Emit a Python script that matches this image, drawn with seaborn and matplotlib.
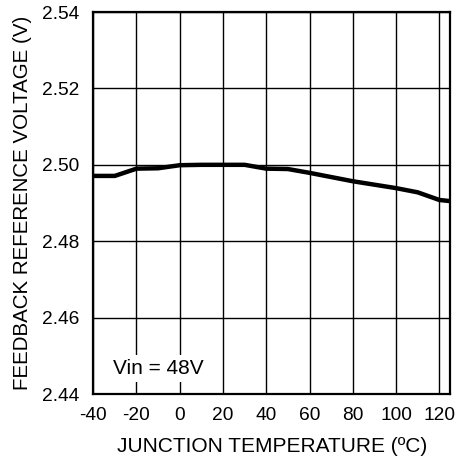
import numpy as np
import pandas as pd
import matplotlib
matplotlib.use("Agg")
import matplotlib.pyplot as plt
import seaborn as sns

# data
temperature = [-40, -30, -20, -10, 0, 10, 20, 30, 40, 50, 60, 70, 80, 90, 100, 110, 120, 125]
voltage = [2.4971, 2.4971, 2.4990, 2.4991, 2.4999, 2.5000, 2.5000, 2.5000, 2.4990, 2.4989,
           2.4979, 2.4968, 2.4957, 2.4948, 2.4939, 2.4928, 2.4908, 2.4905]
x_ticks = [-40, -20, 0, 20, 40, 60, 80, 100, 120]
y_ticks = [2.44, 2.46, 2.48, 2.50, 2.52, 2.54]

df = pd.DataFrame({"temp": temperature, "vref": voltage})

sns.set_theme(style="white")
plt.rcParams["font.family"] = ["Liberation Sans", "DejaVu Sans"]
plt.rcParams["axes.unicode_minus"] = False

fig, ax = plt.subplots(figsize=(4.57, 4.63), dpi=100)
fig.subplots_adjust(left=0.204, right=0.985, top=0.974, bottom=0.149)

sns.lineplot(data=df, x="temp", y="vref", color="black", linewidth=3.2, ax=ax, zorder=3)

ax.set_xlim(-40, 125)
ax.set_ylim(2.44, 2.54)
ax.set_xticks(x_ticks)
ax.set_yticks(y_ticks)
ax.set_yticklabels([f"{v:.2f}" for v in y_ticks])
ax.grid(True, color="black", linewidth=1.0)
ax.tick_params(length=0, labelsize=13.8, colors="black")
ax.tick_params(axis="y", pad=10)
ax.tick_params(axis="x", pad=9)

for s in ax.spines.values():
    s.set_color("black")
    s.set_linewidth(1.6)

ax.set_xlabel("JUNCTION TEMPERATURE (ºC)", fontsize=15, color="black", labelpad=10)
ax.set_ylabel("FEEDBACK REFERENCE VOLTAGE (V)", fontsize=14.8, color="black", labelpad=7)

ax.text(-31, 2.4467, "Vin = 48V", fontsize=15, color="black", va="center", ha="left",
        bbox=dict(facecolor="white", edgecolor="none", pad=3), zorder=4)

fig.savefig("out.png", dpi=100)
